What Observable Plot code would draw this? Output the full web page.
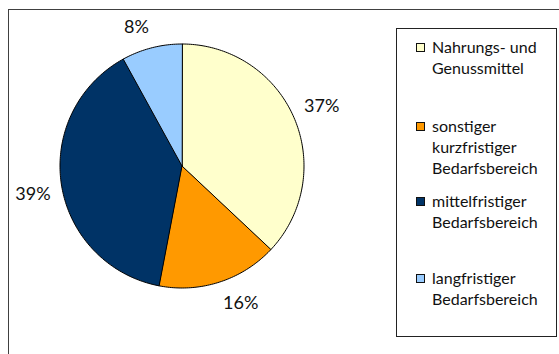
<!DOCTYPE html>
<html>
<head>
<meta charset="utf-8">
<script src="https://cdn.jsdelivr.net/npm/d3@7"></script>
<script src="https://cdn.jsdelivr.net/npm/@observablehq/plot@0.6"></script>
<style>
  html, body { margin: 0; padding: 0; background: #fff; }
  #wrap { position: relative; width: 559px; height: 354px; overflow: hidden; font-family: Lato, "Open Sans", sans-serif; }
  #frame { position: absolute; left: 8px; top: 9px; width: 600px; height: 400px; border: 1px solid #404040; box-sizing: border-box; }
  #chart { position: absolute; left: 0; top: 0; }
  #legend { position: absolute; left: 396px; top: 28px; width: 161px; height: 309px; border: 1px solid #222; box-sizing: border-box; background: #fff; }
  .item { position: absolute; left: 0; font-size: 16px; line-height: 21px; color: #111; }
  .sw { position: absolute; left: 19px; top: 7px; width: 9px; height: 9px; border: 1px solid #111; box-sizing: border-box; }
  .tx { position: absolute; left: 35px; white-space: nowrap; }
</style>
</head>
<body>
<div id="wrap">
  <div id="frame"></div>
  <div id="chart"></div>
  <div id="legend"></div>
</div>
<script>
const categories = ["Nahrungs- und Genussmittel", "sonstiger kurzfristiger Bedarfsbereich", "mittelfristiger Bedarfsbereich", "langfristiger Bedarfsbereich"];
const shares = [37, 16, 39, 8];
const colors = ["#FFFFCC", "#FF9900", "#003366", "#99CCFF"];
const legendLines = [["Nahrungs- und", "Genussmittel"], ["sonstiger", "kurzfristiger", "Bedarfsbereich"], ["mittelfristiger", "Bedarfsbereich"], ["langfristiger", "Bedarfsbereich"]];

const W = 559, H = 354, cx = 181.5, cy = 165.5, R = 122;
const total = d3.sum(shares);

// slice outlines in unit-circle data space
const pts = [];
const labels = [];
let cum = 0;
categories.forEach((cat, i) => {
  const a0 = cum / total * 2 * Math.PI;
  cum += shares[i];
  const a1 = cum / total * 2 * Math.PI;
  pts.push({cat, x: 0, y: 0});
  const n = Math.max(2, Math.ceil((a1 - a0) / (Math.PI / 180)));
  for (let k = 0; k <= n; k++) {
    const a = a0 + (a1 - a0) * k / n;
    pts.push({cat, x: Math.sin(a), y: Math.cos(a)});
  }
  const am = (a0 + a1) / 2;
  labels.push({text: shares[i] + "%",
    x: (1 + 11 / R) * Math.sin(am), y: (1 + 15 / R) * Math.cos(am),
    right: Math.sin(am) > 0, up: Math.cos(am) > 0});
});

const textOpts = (right, up) => ({x: "x", y: "y", text: "text", fontSize: 18, fill: "#111",
  textAnchor: right ? "start" : "end", lineAnchor: up ? "bottom" : "top"});

const plot = Plot.plot({
  width: W, height: H, margin: 0,
  style: {fontFamily: "Lato, 'Open Sans', sans-serif", background: "transparent"},
  x: {domain: [-1, 1], range: [cx - R, cx + R], axis: null},
  y: {domain: [-1, 1], range: [cy + R, cy - R], axis: null},
  color: {domain: categories, range: colors},
  marks: [
    Plot.line(pts, {x: "x", y: "y", z: "cat", fill: "cat", stroke: "#000", strokeWidth: 1, curve: "linear-closed", strokeLinejoin: "round"}),
    ...[[true, true], [true, false], [false, true], [false, false]].map(([r, u]) =>
      Plot.text(labels.filter(d => d.right === r && d.up === u), textOpts(r, u)))
  ]
});
document.getElementById("chart").appendChild(plot);

// legend
const tops = [35, 114, 189, 266];
const leg = document.getElementById("legend");
categories.forEach((cat, i) => {
  const item = document.createElement("div");
  item.className = "item";
  item.style.top = (tops[i] - 28) + "px";
  const sw = document.createElement("div");
  sw.className = "sw";
  sw.style.background = colors[i];
  const tx = document.createElement("div");
  tx.className = "tx";
  tx.innerHTML = legendLines[i].join("<br>");
  item.appendChild(sw);
  item.appendChild(tx);
  leg.appendChild(item);
});
</script>
</body>
</html>
